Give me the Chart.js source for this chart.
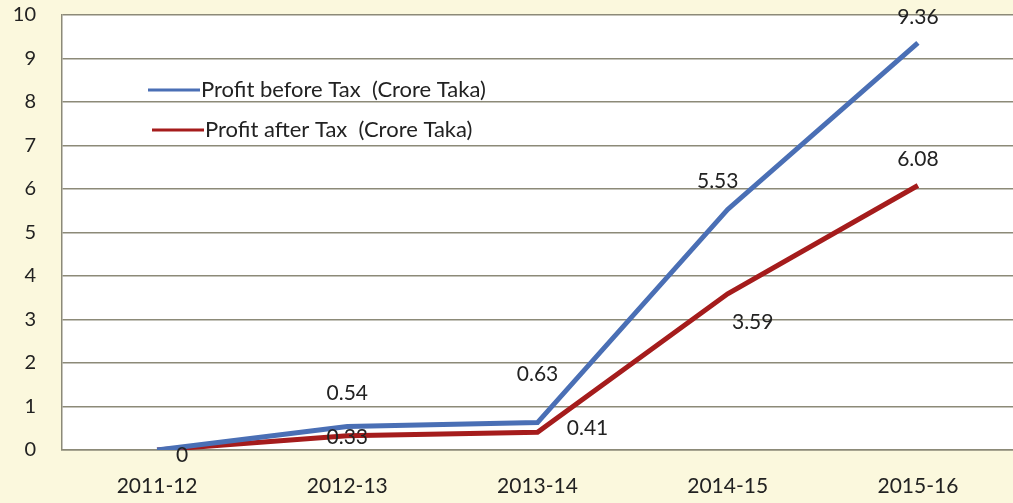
<!DOCTYPE html>
<html>
<head>
<meta charset="utf-8">
<script src="https://cdn.jsdelivr.net/npm/chart.js@4.4.0/dist/chart.umd.min.js"></script>
<style>
  body { margin: 0; background: #fbf8dd; }
  #wrap { width: 1013px; height: 503px; }
</style>
</head>
<body>
<div id="wrap"><canvas id="c"></canvas></div>
<script>
const years = ["2011-12", "2012-13", "2013-14", "2014-15", "2015-16"];
const profitBefore = [0, 0.54, 0.63, 5.53, 9.36];
const profitAfter = [0, 0.33, 0.41, 3.59, 6.08];
const yTicks = [0, 1, 2, 3, 4, 5, 6, 7, 8, 9, 10];

// label offsets from each point (dx, dy)
const beforeOffsets = [[0, 0], [0, -33], [0, -48], [-10, -28], [0, -26]];
const afterOffsets = [[25, 5], [0, 2], [50, -4], [25, 28], [0, -26]];

const font = "Lato, 'Open Sans', sans-serif";

const labelPlugin = {
  id: "labels",
  beforeDraw(chart) {
    const { ctx, chartArea: a } = chart;
    ctx.save();
    ctx.fillStyle = "#ffffff";
    ctx.fillRect(a.left, a.top, a.right - a.left, a.bottom - a.top);
    ctx.restore();
  },
  afterDatasetsDraw(chart) {
    const { ctx } = chart;
    ctx.save();
    ctx.font = "21px " + font;
    ctx.fillStyle = "#222";
    ctx.textAlign = "center";
    ctx.textBaseline = "middle";
    const sets = [[0, beforeOffsets, profitBefore], [1, afterOffsets, profitAfter]];
    sets.forEach(([i, offs, vals]) => {
      chart.getDatasetMeta(i).data.forEach((pt, j) => {
        if (i === 0 && j === 0) return;
        ctx.fillText(String(vals[j]), pt.x + offs[j][0], pt.y + offs[j][1]);
      });
    });
    // legend
    const items = [
      ["Profit before Tax  (Crore Taka)", "#4a6fb5", 148, 90],
      ["Profit after Tax  (Crore Taka)", "#a51c1c", 152, 130]
    ];
    ctx.textAlign = "left";
    ctx.font = "22px " + font;
    items.forEach(([t, c, x, y]) => {
      ctx.strokeStyle = c;
      ctx.lineWidth = 3;
      ctx.beginPath();
      ctx.moveTo(x, y);
      ctx.lineTo(x + 52, y);
      ctx.stroke();
      ctx.fillText(t, x + 53, y);
    });
    ctx.restore();
  }
};

new Chart(document.getElementById("c"), {
  type: "line",
  data: {
    labels: years,
    datasets: [
      {
        label: "Profit before Tax  (Crore Taka)",
        data: profitBefore,
        borderColor: "#4a6fb5",
        borderWidth: 5,
        pointRadius: 0,
        tension: 0
      },
      {
        label: "Profit after Tax  (Crore Taka)",
        data: profitAfter,
        borderColor: "#a51c1c",
        borderWidth: 5,
        pointRadius: 0,
        tension: 0
      }
    ]
  },
  options: {
    responsive: true,
    maintainAspectRatio: false,
    animation: false,
    layout: { padding: { top: 15, right: 0, left: 0, bottom: 0 } },
    plugins: {
      legend: { display: false },
      tooltip: { enabled: false }
    },
    scales: {
      x: {
        offset: true,
        grid: { display: false, drawTicks: false },
        border: { color: "#8c8a78", width: 1.5 },
        ticks: { font: { size: 21, family: font }, color: "#222", padding: 24 },
        afterFit(s) { s.height = 53; s.paddingLeft = 0; s.paddingRight = 0; }
      },
      y: {
        min: 0,
        max: 10,
        afterBuildTicks(s) { s.ticks = yTicks.map(v => ({ value: v })); },
        grid: { color: "#8c8a78", lineWidth: 1.5, drawTicks: false },
        border: { color: "#8c8a78", width: 1.5 },
        ticks: { font: { size: 20, family: font }, color: "#222", padding: 26 },
        afterFit(s) { s.width = 62; s.paddingTop = 0; s.paddingBottom = 0; }
      }
    }
  },
  plugins: [labelPlugin]
});
</script>
</body>
</html>
